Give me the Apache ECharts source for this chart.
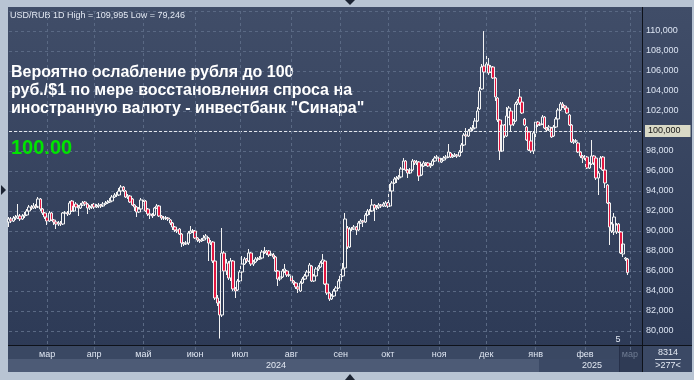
<!DOCTYPE html>
<html><head><meta charset="utf-8">
<script src="https://cdn.jsdelivr.net/npm/echarts/dist/echarts.min.js"></script>
<style>
html,body{margin:0;padding:0;background:#b8c4d3;width:694px;height:380px;overflow:hidden;}
#panel{position:absolute;left:8px;top:7px;width:684px;height:365px;background:linear-gradient(#404d68,#2c3955);}
#chart{position:absolute;left:0;top:0;width:694px;height:380px;}
</style></head><body><div id="panel"></div><div id="chart"></div>
<script>
// ---- data ----
const firstDay = '2024-02-07';
const lastDay = '2025-03-10';          // axis runs a week past the last bar
const holidays = ['2025-01-01'];
const monthNames = ['янв','фев','мар','апр','май','июн','июл','авг','сен','окт','ноя','дек'];
const yearLabels = ['2024', '2025'];
const titleText = 'USD/RUB 1D High = 109,995 Low = 79,246';
const noteLines = ['Вероятно ослабление рубля до 100', 'руб./$1 по мере восстановления спроса на', 'иностранную валюту - инвестбанк "Синара"'];
const noteValue = '100.00';
const refLevel = 100;
const lastValue = 85.833;
const barCount = '8314';
const barsShown = '>277<';
// [open, close, low, high]
const candles = [
[90.9,91.2,90.4,91.4],[91.2,91.0,90.8,91.4],[91.0,91.3,90.9,91.5],[91.3,91.4,91.1,91.6],[91.3,91.5,91.2,92.7],
[91.5,91.2,91.0,91.7],[91.2,91.5,91.1,91.7],[91.5,91.6,91.3,91.9],[91.6,92.0,91.5,92.2],[92.0,92.4,91.9,92.6],
[92.4,92.3,92.1,92.6],[92.3,92.5,92.2,92.8],[92.5,92.4,92.2,92.7],[92.4,93.2,92.3,93.4],[93.2,92.2,92.0,93.3],
[92.2,91.8,91.6,92.3],[91.8,91.4,91.2,91.9],[91.4,91.0,90.6,91.5],[91.0,91.8,90.9,92.0],[91.8,91.1,91.0,91.9],
[91.1,90.9,90.6,91.2],[90.9,90.7,90.2,91.0],[90.7,90.8,90.5,91.0],[90.8,90.7,90.5,91.0],[90.7,91.8,90.6,91.9],
[91.8,91.8,91.6,92.0],[91.8,91.7,91.5,92.0],[91.7,92.8,91.6,93.0],[93.0,92.0,91.9,93.1],[92.0,92.5,91.9,92.7],
[92.7,92.4,92.2,92.9],[92.4,92.3,91.5,92.6],[92.3,92.6,92.2,92.8],[92.6,92.8,92.5,93.0],[92.9,92.7,92.5,93.0],
[92.7,92.3,91.7,92.8],[92.3,92.4,92.1,92.6],[92.4,92.5,92.2,92.7],[92.7,92.4,92.2,92.8],[92.4,92.5,92.3,92.7],
[92.5,92.6,92.3,92.8],[92.6,92.5,92.3,92.7],[92.5,92.7,92.4,92.9],[92.7,92.8,92.6,93.0],[92.8,92.9,92.7,93.1],
[92.9,93.0,92.8,93.3],[93.0,93.4,92.9,93.6],[93.4,93.6,93.3,93.8],[93.6,93.6,93.4,93.9],[93.6,94.0,93.5,94.3],
[94.0,94.4,93.9,94.6],[94.4,94.1,93.9,94.5],[94.0,93.4,93.3,94.1],[93.4,93.5,93.2,93.7],[93.5,92.9,92.8,93.6],
[93.2,92.6,92.5,93.3],[92.6,92.4,92.0,92.7],[92.4,91.9,91.4,92.5],[91.9,92.2,91.8,92.4],[92.2,93.1,92.1,93.3],
[93.1,93.1,92.9,93.3],[93.0,92.0,91.9,93.1],[92.2,91.7,91.5,92.3],[91.7,91.6,91.2,91.8],[91.6,91.5,91.3,91.8],
[91.6,92.3,91.5,92.4],[92.3,92.5,92.2,92.7],[92.5,91.5,91.4,92.6],[91.5,91.3,91.1,91.6],[91.3,91.3,91.1,91.5],
[91.3,91.3,91.1,91.5],[91.3,91.2,91.0,91.4],[91.1,90.8,90.6,91.2],[90.8,90.4,90.1,90.9],[90.4,90.1,89.9,90.5],
[90.1,90.0,89.8,90.3],[90.2,89.7,89.6,90.3],[89.7,88.8,88.4,89.8],[88.8,88.7,88.5,88.9],[88.7,88.8,88.6,89.0],
[88.8,89.8,88.6,90.0],[89.8,90.0,89.7,90.5],[90.0,90.0,89.8,90.2],[90.0,89.3,89.2,90.1],[89.3,89.1,88.9,89.4],
[89.1,89.0,88.8,89.2],[89.0,89.1,88.9,89.3],[89.1,89.3,89.0,89.6],[89.3,89.5,89.2,89.7],[89.3,88.8,87.0,89.4],
[88.8,88.9,88.6,89.1],[88.9,87.0,86.8,89.0],[87.0,83.3,83.1,87.1],[83.3,82.8,82.5,83.6],[82.8,81.6,79.246,83.0],
[81.6,87.8,81.4,90.3],[87.8,86.0,85.8,88.0],[86.0,86.8,85.6,87.2],[86.8,85.3,85.1,87.0],[85.3,87.0,85.0,87.3],
[87.0,84.2,84.0,87.1],[84.2,84.0,83.3,84.4],[84.1,85.0,84.0,85.2],[85.0,85.9,84.9,86.1],[85.9,86.7,85.8,87.5],
[86.7,87.2,86.6,87.4],[87.2,87.0,86.8,87.3],[87.0,87.8,86.9,88.2],[87.8,86.7,86.5,87.9],[86.7,86.9,86.5,87.1],
[86.9,87.2,86.8,87.4],[87.2,87.2,87.0,87.4],[87.2,87.3,87.1,87.5],[87.3,87.9,87.2,88.1],[87.9,88.0,87.7,88.4],
[88.0,87.8,87.6,88.1],[88.0,87.6,87.4,88.1],[87.6,87.7,87.5,87.9],[87.6,87.4,87.2,87.8],[87.4,86.0,85.9,87.5],
[86.0,85.2,84.5,86.1],[85.2,85.4,85.0,85.6],[85.4,86.0,85.3,86.2],[86.0,86.2,85.8,86.7],[86.0,85.6,85.4,86.1],
[85.6,85.6,85.4,85.8],[85.5,85.0,84.8,85.6],[85.0,84.8,84.6,85.1],[84.8,84.4,84.2,84.9],[84.4,84.2,83.8,84.5],
[84.0,84.8,83.9,85.0],[84.8,85.2,84.7,85.4],[85.2,85.5,85.1,85.7],[85.5,85.9,85.4,86.1],[85.9,86.6,85.8,86.8],
[86.5,85.0,84.9,86.6],[85.0,85.5,84.9,85.7],[85.5,86.2,85.4,86.4],[86.2,86.4,86.0,86.6],[86.4,86.8,86.3,87.0],
[86.8,87.1,86.7,87.7],[87.0,84.7,84.6,87.1],[84.7,83.8,83.6,84.8],[83.8,83.2,83.0,83.9],[83.2,83.5,83.1,83.7],
[83.5,84.0,83.4,84.2],[84.0,84.3,83.9,84.5],[84.3,85.0,84.2,85.2],[85.0,85.5,84.9,85.7],[85.5,86.2,85.4,86.8],
[86.3,91.2,86.2,91.8],[90.3,88.4,88.2,90.5],[88.4,90.2,88.3,90.4],[90.2,90.2,90.0,90.4],[90.2,90.4,90.1,90.6],
[90.4,90.1,89.6,90.5],[90.1,90.8,90.0,91.0],[90.8,91.0,90.7,91.2],[91.0,90.9,90.4,91.1],[90.9,91.6,90.8,91.8],
[91.6,92.0,91.5,92.2],[92.0,92.0,91.6,92.2],[92.0,92.6,91.9,93.2],[92.6,92.3,91.0,92.7],[92.3,92.4,92.1,92.6],
[92.4,92.6,92.2,92.8],[92.6,92.5,92.3,92.7],[92.5,92.7,92.4,92.9],[92.5,92.8,92.4,93.0],[92.8,92.5,92.3,92.9],
[92.5,94.0,92.4,94.7],[94.0,94.8,93.9,95.0],[94.8,95.2,94.7,95.4],[95.2,95.3,94.8,95.5],[95.3,95.4,95.1,95.6],
[95.4,96.2,95.3,96.4],[96.2,97.0,96.1,97.3],[97.0,96.1,96.0,97.1],[96.1,95.8,95.3,96.2],[95.8,96.1,95.7,96.3],
[96.1,97.0,96.0,97.2],[97.0,96.8,96.6,97.1],[96.8,96.9,96.6,97.1],[96.9,95.5,95.0,97.0],[95.6,96.5,95.5,96.7],
[96.5,96.8,96.4,97.0],[96.8,96.7,96.5,96.9],[96.8,96.5,96.4,96.9],[96.5,96.6,96.3,96.8],[96.6,97.0,96.5,97.2],
[97.0,97.3,96.9,97.5],[97.3,97.4,97.1,97.6],[97.3,96.9,96.8,97.4],[96.9,97.1,96.8,97.3],[97.1,97.3,97.0,97.5],
[97.3,97.4,97.2,97.6],[97.4,97.9,97.3,98.7],[97.8,97.4,97.3,97.9],[97.4,97.5,97.3,97.7],[97.5,97.6,97.4,97.8],
[97.6,97.5,97.3,97.7],[97.5,97.9,97.4,98.1],[97.9,98.6,97.8,98.8],[98.6,99.6,98.5,99.8],[99.6,99.5,99.3,100.3],
[99.5,100.0,99.4,100.2],[100.0,100.2,99.9,100.4],[100.2,100.3,100.0,100.6],[100.3,101.0,100.2,101.3],[101.0,102.0,100.9,102.4],
[102.2,104.0,102.1,104.4],[104.2,106.4,104.1,106.7],[106.5,105.9,105.6,109.995],[105.9,106.7,105.7,107.5],[106.6,105.8,105.6,107.3],
[105.9,106.4,105.8,106.6],[106.4,105.3,105.2,106.5],[105.3,103.4,103.0,105.4],[103.3,101.1,100.9,103.4],[101.1,98.0,97.1,101.2],
[98.0,100.6,97.9,100.8],[100.6,99.5,99.3,100.7],[99.5,101.5,99.4,102.4],[101.4,102.3,101.3,102.5],[102.0,100.6,100.0,102.1],
[100.7,101.0,100.5,101.2],[101.0,102.7,100.9,102.9],[102.8,103.0,102.6,103.2],[103.4,102.8,102.6,104.2],[102.9,101.8,101.7,103.0],
[101.2,100.6,100.5,101.3],[100.4,99.1,99.0,100.5],[99.9,98.1,98.0,100.0],[99.0,98.0,97.8,99.1],[98.0,99.8,97.7,100.0],
[99.8,100.9,99.1,101.1],[100.9,100.6,100.4,101.0],[100.6,100.7,100.5,100.9],[100.7,101.4,100.6,101.6],[101.4,100.3,100.2,101.5],
[100.3,100.1,99.9,100.4],[100.1,100.4,100.0,100.6],[100.3,99.4,99.3,100.4],[99.5,100.4,99.4,100.6],[100.4,101.2,100.3,101.4],
[101.2,102.1,101.1,102.3],[102.1,102.7,102.0,102.9],[102.7,102.5,102.3,102.9],[102.5,102.3,102.1,102.6],[102.3,101.8,101.7,102.4],
[101.6,100.6,100.5,101.7],[100.6,98.9,98.8,100.7],[98.9,99.0,98.7,99.2],[99.0,99.0,98.8,99.2],[98.8,97.9,97.8,98.9],
[97.9,97.5,97.3,98.0],[97.5,97.3,96.8,97.6],[97.3,97.4,97.1,97.6],[97.4,96.3,96.2,97.5],[96.3,96.7,96.2,96.9],
[96.7,97.5,96.6,99.1],[97.5,96.8,96.6,97.6],[97.3,95.3,95.1,97.4],[95.3,95.8,93.6,96.0],[96.3,97.3,96.2,97.5],
[97.4,96.1,96.0,97.5],[96.1,94.8,94.3,96.2],[94.6,92.8,92.7,94.7],[92.8,90.4,88.6,92.9],[90.0,90.7,89.8,90.9],
[89.9,91.4,89.6,91.8],[89.9,90.6,89.7,90.8],[90.7,89.9,89.8,90.8],[89.9,87.8,87.7,90.0],[87.7,88.7,87.4,88.8],
[87.2,87.3,87.0,87.4],[87.2,85.833,85.6,87.3]
];

// trading-day categories (weekdays, minus listed holidays)
const dates = [];
(function(){
  const d = new Date(firstDay + 'T00:00:00Z');
  const end = new Date(lastDay + 'T00:00:00Z').getTime();
  while (d.getTime() <= end) {
    const wd = d.getUTCDay();
    const s = d.toISOString().slice(0, 10);
    if (wd !== 0 && wd !== 6 && holidays.indexOf(s) < 0) dates.push(s);
    d.setUTCDate(d.getUTCDate() + 1);
  }
})();
const monthStart = new Set();
for (let i = 1; i < dates.length; i++) if (dates[i].slice(0, 7) !== dates[i - 1].slice(0, 7)) monthStart.add(i);

const FONT = 'Arial, "Liberation Sans", sans-serif';
const chart = echarts.init(document.getElementById('chart'), null, {renderer: 'canvas'});
const fmtNum = v => v.toFixed(3).replace('.', ',');
const tagLabel = (bg) => ({show: true, position: 'end', distance: 4, fontSize: 9, fontFamily: FONT,
  color: '#161616', backgroundColor: bg, padding: [2, 10, 1, 3], formatter: p => fmtNum(p.value)});

chart.setOption({
  animation: false,
  backgroundColor: 'transparent',
  grid: {left: 9, right: 53, top: 11, bottom: 29, containLabel: false, outerBoundsMode: 'none'},
  xAxis: {
    type: 'category', data: dates, boundaryGap: false, offset: -6, z: 10,
    axisLine: {show: false}, axisTick: {show: false},
    axisLabel: {
      interval: (i) => monthStart.has(i), margin: 10, verticalAlign: 'middle',
      fontSize: 9, fontFamily: FONT, color: '#dfe6f2', hideOverlap: false,
      formatter: (v, i) => {
        const m = monthNames[parseInt(v.slice(5, 7), 10) - 1];
        return i >= candles.length ? '{f|' + m + '}' : m;
      },
      rich: {f: {color: '#6f7c93', fontSize: 9, fontFamily: FONT}}
    },
    splitLine: {show: true, interval: (i) => monthStart.has(i), lineStyle: {color: '#5a6984', type: [3, 3], width: 1}}
  },
  yAxis: {
    type: 'value', position: 'right', min: 78, max: 112, interval: 2, scale: true,
    axisLine: {show: false}, axisTick: {show: false},
    axisLabel: {margin: 5, fontSize: 9, fontFamily: FONT, color: '#dde5f3',
      formatter: v => (v >= 80 && v <= 110) ? fmtNum(v) : ''},
    splitLine: {lineStyle: {color: '#5a6984', type: [3, 3], width: 1}}
  },
  series: [{
    type: 'candlestick', data: candles, barWidth: 3, clip: false,
    itemStyle: {color: 'rgba(0,0,0,0)', color0: '#e3163f', borderColor: '#f3f3f3', borderColor0: '#f3f3f3', borderWidth: 1},
    markLine: {
      silent: true, symbol: ['none', 'none'], animation: false,
      data: [
        {yAxis: refLevel, lineStyle: {color: '#e4e8ee', type: [3, 2], width: 1}, label: tagLabel('#d9d9c6')},
        {yAxis: lastValue, lineStyle: {opacity: 0}, label: tagLabel('#c7ccd6')}
      ]
    }
  }],
  graphic: [
    // bottom axis bands
    {type: 'rect', z: 5, shape: {x: 8, y: 345, width: 634, height: 14}, style: {fill: '#3a4863'}},
    {type: 'rect', z: 5, shape: {x: 8, y: 359, width: 531, height: 13}, style: {fill: '#4d5b76'}},
    {type: 'rect', z: 5, shape: {x: 539, y: 359, width: 80, height: 13}, style: {fill: '#3b4965'}},
    {type: 'rect', z: 5, shape: {x: 619, y: 346, width: 23, height: 26}, style: {fill: '#2f3b55'}},
    {type: 'rect', z: 5, shape: {x: 642, y: 345, width: 50, height: 27}, style: {fill: '#3b4965'}},
    {type: 'line', z: 6, shape: {x1: 619.5, y1: 346, x2: 619.5, y2: 372}, style: {stroke: '#26304a', lineWidth: 1}},
    {type: 'line', z: 6, shape: {x1: 8, y1: 345.5, x2: 692, y2: 345.5}, style: {stroke: '#0e121a', lineWidth: 1}},
    {type: 'line', z: 6, shape: {x1: 642.5, y1: 7, x2: 642.5, y2: 372}, style: {stroke: '#0e121a', lineWidth: 1}},
    {type: 'line', z: 6, shape: {x1: 655, y1: 359.5, x2: 681, y2: 359.5}, style: {stroke: '#c9d1de', lineWidth: 1}},
    // texts
    {type: 'text', z: 7, x: 10, y: 15.2, style: {text: titleText, fill: '#e3e9f3', font: '9px ' + FONT, verticalAlign: 'middle'}},
    {type: 'text', z: 7, x: 11, y: 90.5, style: {text: noteLines.join('\n'), fill: '#ffffff', font: 'bold 16px ' + FONT, lineHeight: 18.3, verticalAlign: 'middle'}},
    {type: 'text', z: 7, x: 11, y: 148.8, style: {text: noteValue, fill: '#00e400', font: 'bold 20px ' + FONT, verticalAlign: 'middle'}},
    {type: 'text', z: 7, x: 276, y: 365.2, style: {text: yearLabels[0], fill: '#e3e9f3', font: '9px ' + FONT, align: 'center', verticalAlign: 'middle'}},
    {type: 'text', z: 7, x: 592, y: 365.2, style: {text: yearLabels[1], fill: '#e3e9f3', font: '9px ' + FONT, align: 'center', verticalAlign: 'middle'}},
    {type: 'text', z: 7, x: 668, y: 352.9, style: {text: barCount, fill: '#e3e9f3', font: '9px ' + FONT, align: 'center', verticalAlign: 'middle'}},
    {type: 'text', z: 7, x: 668, y: 365.9, style: {text: barsShown, fill: '#e3e9f3', font: '9px ' + FONT, align: 'center', verticalAlign: 'middle'}},
    {type: 'text', z: 7, x: 618, y: 339.5, style: {text: '5', fill: '#e3e9f3', font: '9px ' + FONT, align: 'center', verticalAlign: 'middle'}},
    // frame pointers
    {type: 'polygon', z: 7, shape: {points: [[1, 185], [6, 190], [1, 195]]}, style: {fill: '#1c2433'}},
    {type: 'polygon', z: 7, shape: {points: [[345, 0], [355, 0], [350, 5]]}, style: {fill: '#1c2433'}},
    {type: 'polygon', z: 7, shape: {points: [[345, 380], [355, 380], [350, 374]]}, style: {fill: '#1c2433'}}
  ]
});
</script></body></html>
